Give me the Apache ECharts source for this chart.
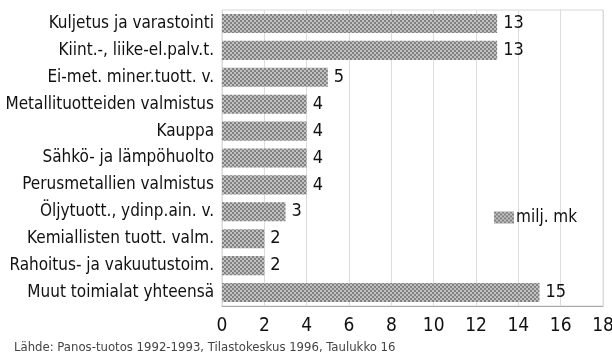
<!DOCTYPE html>
<html>
<head>
<meta charset="utf-8">
<script src="https://cdn.jsdelivr.net/npm/echarts@6/dist/echarts.min.js"></script>
<style>
  html, body { margin: 0; padding: 0; background: #fff; }
  #chart { width: 612px; height: 354px; }
</style>
</head>
<body>
<div id="chart"></div>
<script>
// Industries, top to bottom
const categories = [
  'Kuljetus ja varastointi',
  'Kiint.-, liike-el.palv.t.',
  'Ei-met. miner.tuott. v.',
  'Metallituotteiden valmistus',
  'Kauppa',
  'Sähkö- ja lämpöhuolto',
  'Perusmetallien valmistus',
  'Öljytuott., ydinp.ain. v.',
  'Kemiallisten tuott. valm.',
  'Rahoitus- ja vakuutustoim.',
  'Muut toimialat yhteensä'
];
const values = [13, 13, 5, 4, 4, 4, 4, 3, 2, 2, 15];
const seriesName = 'milj. mk';
const xTicks = [0, 2, 4, 6, 8, 10, 12, 14, 16, 18];
const sourceText = 'Lähde: Panos-tuotos 1992-1993, Tilastokeskus 1996, Taulukko 16';

const FONT = "'Liberation Sans Narrow', 'DejaVu Sans Condensed', 'Roboto Condensed', sans-serif";

// Fine two-pixel checkerboard fill for the bars
function makePattern() {
  const c = document.createElement('canvas');
  c.width = 4; c.height = 4;
  const g = c.getContext('2d');
  g.fillStyle = '#c0c0c0';
  g.fillRect(0, 0, 4, 4);
  g.fillStyle = '#828282';
  g.fillRect(0, 0, 2, 2);
  g.fillRect(2, 2, 2, 2);
  return { image: c, repeat: 'repeat' };
}
const pattern = makePattern();

const chart = echarts.init(document.getElementById('chart'), null, { renderer: 'canvas' });
chart.setOption({
  animation: false,
  backgroundColor: '#fff',
  grid: {
    left: 222, right: 9, top: 10, bottom: 48,
    outerBoundsMode: 'none',
    containLabel: false,
    show: true, borderColor: '#d6d6d6', borderWidth: 1
  },
  legend: {
    left: 489, top: 204,
    itemWidth: 20, itemHeight: 12, itemGap: 4,
    icon: 'rect',
    textStyle: { fontFamily: FONT, fontSize: 17, color: '#111', padding: [0, 0, 0, -3] },
    data: [{ name: seriesName, itemStyle: { color: pattern } }]
  },
  xAxis: {
    type: 'value',
    min: xTicks[0], max: xTicks[xTicks.length - 1], interval: 2,
    axisLine: { show: true, lineStyle: { color: '#aaa' } },
    axisTick: { show: false },
    splitLine: { show: true, lineStyle: { color: '#dcdcdc' } },
    axisLabel: { fontFamily: FONT, fontSize: 19, color: '#111', margin: 11 }
  },
  yAxis: {
    type: 'category',
    data: categories,
    inverse: true,
    axisLine: { show: false },
    axisTick: { show: false },
    axisLabel: { fontFamily: FONT, fontSize: 17, color: '#111', margin: 8 }
  },
  series: [{
    name: seriesName,
    type: 'bar',
    data: values,
    barCategoryGap: '29%',
    itemStyle: { color: pattern },
    label: {
      show: true, position: 'right', distance: 6,
      fontFamily: FONT, fontSize: 18, color: '#111'
    }
  }],
  graphic: [{
    type: 'text', left: 14, top: 341,
    style: { text: sourceText, font: "13px " + FONT, fill: '#444' }
  }]
});
</script>
</body>
</html>
